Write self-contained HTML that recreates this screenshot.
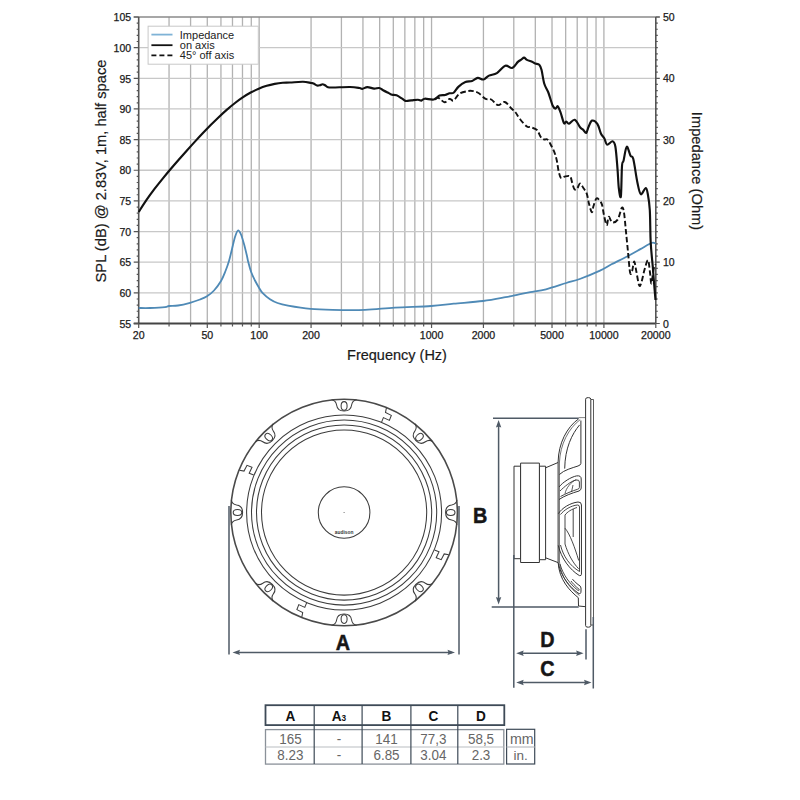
<!DOCTYPE html><html><head><meta charset="utf-8"><style>
html,body{margin:0;padding:0;background:#fff;width:800px;height:800px;overflow:hidden}
svg{position:absolute;left:0;top:0}
text{font-family:"Liberation Sans",sans-serif}
</style></head><body>
<svg width="800" height="800" viewBox="0 0 800 800">

<path d="M169.05 17.0V323.5M190.59 17.0V323.5M207.29 17.0V323.5M220.94 17.0V323.5M232.48 17.0V323.5M242.48 17.0V323.5M251.29 17.0V323.5M259.18 17.0V323.5M311.07 17.0V323.5M341.42 17.0V323.5M362.95 17.0V323.5M379.66 17.0V323.5M393.31 17.0V323.5M404.85 17.0V323.5M414.84 17.0V323.5M423.66 17.0V323.5M431.55 17.0V323.5M483.43 17.0V323.5M513.79 17.0V323.5M535.32 17.0V323.5M552.02 17.0V323.5M565.67 17.0V323.5M577.21 17.0V323.5M587.21 17.0V323.5M596.03 17.0V323.5M603.91 17.0V323.5" stroke="#b2b2b2" stroke-width="1.3" fill="none"/>
<path d="M138.7 292.85H655.8M138.7 262.20H655.8M138.7 231.55H655.8M138.7 200.90H655.8M138.7 170.25H655.8M138.7 139.60H655.8M138.7 108.95H655.8M138.7 78.30H655.8M138.7 47.65H655.8" stroke="#c8c8c8" stroke-width="1.3" fill="none"/>
<path d="M133.7 17.0H659.8" stroke="#8a8a8a" stroke-width="1.6"/>
<path d="M138.7 17.0V323.5 M655.8 17.0V323.5" stroke="#555" stroke-width="1.6"/>
<path d="M133.7 323.5H655.8" stroke="#444" stroke-width="1.8"/>
<path d="M169.05 323.5V326.5M190.59 323.5V326.5M207.29 323.5V326.5M220.94 323.5V326.5M232.48 323.5V326.5M242.48 323.5V326.5M251.29 323.5V326.5M259.18 323.5V326.5M311.07 323.5V326.5M341.42 323.5V326.5M362.95 323.5V326.5M379.66 323.5V326.5M393.31 323.5V326.5M404.85 323.5V326.5M414.84 323.5V326.5M423.66 323.5V326.5M431.55 323.5V326.5M483.43 323.5V326.5M513.79 323.5V326.5M535.32 323.5V326.5M552.02 323.5V326.5M565.67 323.5V326.5M577.21 323.5V326.5M587.21 323.5V326.5M596.03 323.5V326.5M603.91 323.5V326.5M138.70 323.5V328.0M207.29 323.5V328.0M259.18 323.5V328.0M311.07 323.5V328.0M431.55 323.5V328.0M483.43 323.5V328.0M552.02 323.5V328.0M603.91 323.5V328.0M655.80 323.5V328.0M133.7 323.50H138.7M655.8 323.50H659.8M136.7 317.37H138.7M655.8 317.37H657.8M136.7 311.24H138.7M655.8 311.24H657.8M136.7 305.11H138.7M655.8 305.11H657.8M136.7 298.98H138.7M655.8 298.98H657.8M133.7 292.85H138.7M655.8 292.85H657.8M136.7 286.72H138.7M655.8 286.72H657.8M136.7 280.59H138.7M655.8 280.59H657.8M136.7 274.46H138.7M655.8 274.46H657.8M136.7 268.33H138.7M655.8 268.33H657.8M133.7 262.20H138.7M655.8 262.20H659.8M136.7 256.07H138.7M655.8 256.07H657.8M136.7 249.94H138.7M655.8 249.94H657.8M136.7 243.81H138.7M655.8 243.81H657.8M136.7 237.68H138.7M655.8 237.68H657.8M133.7 231.55H138.7M655.8 231.55H657.8M136.7 225.42H138.7M655.8 225.42H657.8M136.7 219.29H138.7M655.8 219.29H657.8M136.7 213.16H138.7M655.8 213.16H657.8M136.7 207.03H138.7M655.8 207.03H657.8M133.7 200.90H138.7M655.8 200.90H659.8M136.7 194.77H138.7M655.8 194.77H657.8M136.7 188.64H138.7M655.8 188.64H657.8M136.7 182.51H138.7M655.8 182.51H657.8M136.7 176.38H138.7M655.8 176.38H657.8M133.7 170.25H138.7M655.8 170.25H657.8M136.7 164.12H138.7M655.8 164.12H657.8M136.7 157.99H138.7M655.8 157.99H657.8M136.7 151.86H138.7M655.8 151.86H657.8M136.7 145.73H138.7M655.8 145.73H657.8M133.7 139.60H138.7M655.8 139.60H659.8M136.7 133.47H138.7M655.8 133.47H657.8M136.7 127.34H138.7M655.8 127.34H657.8M136.7 121.21H138.7M655.8 121.21H657.8M136.7 115.08H138.7M655.8 115.08H657.8M133.7 108.95H138.7M655.8 108.95H657.8M136.7 102.82H138.7M655.8 102.82H657.8M136.7 96.69H138.7M655.8 96.69H657.8M136.7 90.56H138.7M655.8 90.56H657.8M136.7 84.43H138.7M655.8 84.43H657.8M133.7 78.30H138.7M655.8 78.30H659.8M136.7 72.17H138.7M655.8 72.17H657.8M136.7 66.04H138.7M655.8 66.04H657.8M136.7 59.91H138.7M655.8 59.91H657.8M136.7 53.78H138.7M655.8 53.78H657.8M133.7 47.65H138.7M655.8 47.65H657.8M136.7 41.52H138.7M655.8 41.52H657.8M136.7 35.39H138.7M655.8 35.39H657.8M136.7 29.26H138.7M655.8 29.26H657.8M136.7 23.13H138.7M655.8 23.13H657.8M133.7 17.00H138.7M655.8 17.00H659.8" stroke="#555" stroke-width="1.2" fill="none"/>
<text x="131.1" y="327.70" font-size="10.5" text-anchor="end" fill="#1a1a1a" stroke="#1a1a1a" stroke-width="0.25">55</text>
<text x="131.1" y="297.05" font-size="10.5" text-anchor="end" fill="#1a1a1a" stroke="#1a1a1a" stroke-width="0.25">60</text>
<text x="131.1" y="266.40" font-size="10.5" text-anchor="end" fill="#1a1a1a" stroke="#1a1a1a" stroke-width="0.25">65</text>
<text x="131.1" y="235.75" font-size="10.5" text-anchor="end" fill="#1a1a1a" stroke="#1a1a1a" stroke-width="0.25">70</text>
<text x="131.1" y="205.10" font-size="10.5" text-anchor="end" fill="#1a1a1a" stroke="#1a1a1a" stroke-width="0.25">75</text>
<text x="131.1" y="174.45" font-size="10.5" text-anchor="end" fill="#1a1a1a" stroke="#1a1a1a" stroke-width="0.25">80</text>
<text x="131.1" y="143.80" font-size="10.5" text-anchor="end" fill="#1a1a1a" stroke="#1a1a1a" stroke-width="0.25">85</text>
<text x="131.1" y="113.15" font-size="10.5" text-anchor="end" fill="#1a1a1a" stroke="#1a1a1a" stroke-width="0.25">90</text>
<text x="131.1" y="82.50" font-size="10.5" text-anchor="end" fill="#1a1a1a" stroke="#1a1a1a" stroke-width="0.25">95</text>
<text x="131.1" y="51.85" font-size="10.5" text-anchor="end" fill="#1a1a1a" stroke="#1a1a1a" stroke-width="0.25">100</text>
<text x="131.1" y="21.20" font-size="10.5" text-anchor="end" fill="#1a1a1a" stroke="#1a1a1a" stroke-width="0.25">105</text>
<text x="663" y="327.60" font-size="10.5" fill="#1a1a1a" stroke="#1a1a1a" stroke-width="0.25">0</text>
<text x="663" y="266.30" font-size="10.5" fill="#1a1a1a" stroke="#1a1a1a" stroke-width="0.25">10</text>
<text x="663" y="205.00" font-size="10.5" fill="#1a1a1a" stroke="#1a1a1a" stroke-width="0.25">20</text>
<text x="663" y="143.70" font-size="10.5" fill="#1a1a1a" stroke="#1a1a1a" stroke-width="0.25">30</text>
<text x="663" y="82.40" font-size="10.5" fill="#1a1a1a" stroke="#1a1a1a" stroke-width="0.25">40</text>
<text x="663" y="21.10" font-size="10.5" fill="#1a1a1a" stroke="#1a1a1a" stroke-width="0.25">50</text>
<text x="138.70" y="338.6" font-size="10.6" text-anchor="middle" fill="#1a1a1a" stroke="#1a1a1a" stroke-width="0.25">20</text>
<text x="207.29" y="338.6" font-size="10.6" text-anchor="middle" fill="#1a1a1a" stroke="#1a1a1a" stroke-width="0.25">50</text>
<text x="259.18" y="338.6" font-size="10.6" text-anchor="middle" fill="#1a1a1a" stroke="#1a1a1a" stroke-width="0.25">100</text>
<text x="311.07" y="338.6" font-size="10.6" text-anchor="middle" fill="#1a1a1a" stroke="#1a1a1a" stroke-width="0.25">200</text>
<text x="431.55" y="338.6" font-size="10.6" text-anchor="middle" fill="#1a1a1a" stroke="#1a1a1a" stroke-width="0.25">1000</text>
<text x="483.43" y="338.6" font-size="10.6" text-anchor="middle" fill="#1a1a1a" stroke="#1a1a1a" stroke-width="0.25">2000</text>
<text x="552.02" y="338.6" font-size="10.6" text-anchor="middle" fill="#1a1a1a" stroke="#1a1a1a" stroke-width="0.25">5000</text>
<text x="603.91" y="338.6" font-size="10.6" text-anchor="middle" fill="#1a1a1a" stroke="#1a1a1a" stroke-width="0.25">10000</text>
<text x="655.80" y="338.6" font-size="10.6" text-anchor="middle" fill="#1a1a1a" stroke="#1a1a1a" stroke-width="0.25">20000</text>
<text x="397" y="359.8" font-size="14.5" text-anchor="middle" fill="#1a1a1a" stroke="#1a1a1a" stroke-width="0.2">Frequency (Hz)</text>
<text transform="translate(105.6,171) rotate(-90)" font-size="14.7" text-anchor="middle" fill="#1a1a1a" stroke="#1a1a1a" stroke-width="0.2">SPL (dB) @ 2.83V, 1m, half space</text>
<text transform="translate(692,171) rotate(90)" font-size="14.7" text-anchor="middle" fill="#1a1a1a" stroke="#1a1a1a" stroke-width="0.2">Impedance (Ohm)</text>
<path d="M138.70 308.00C140.58 308.00 145.62 308.13 150.00 308.00C154.38 307.87 161.83 307.53 165.00 307.20C168.17 306.87 166.83 306.28 169.00 306.00C171.17 305.72 174.50 306.03 178.00 305.50C181.50 304.97 186.33 303.80 190.00 302.80C193.67 301.80 197.17 300.58 200.00 299.50C202.83 298.42 204.67 297.80 207.00 296.30C209.33 294.80 211.67 293.05 214.00 290.50C216.33 287.95 219.08 284.25 221.00 281.00C222.92 277.75 224.17 274.33 225.50 271.00C226.83 267.67 227.92 264.67 229.00 261.00C230.08 257.33 231.00 253.00 232.00 249.00C233.00 245.00 234.00 240.08 235.00 237.00C236.00 233.92 237.00 230.92 238.00 230.50C239.00 230.08 240.00 232.25 241.00 234.50C242.00 236.75 243.04 240.58 244.00 244.00C244.96 247.42 246.04 252.02 246.75 255.00C247.46 257.98 247.50 259.02 248.25 261.90C249.00 264.77 250.12 269.15 251.25 272.25C252.38 275.35 253.75 278.00 255.00 280.50C256.25 283.00 257.50 285.18 258.75 287.25C260.00 289.32 260.62 290.90 262.50 292.90C264.38 294.90 267.50 297.57 270.00 299.25C272.50 300.93 274.50 301.94 277.50 303.00C280.50 304.06 282.50 304.62 288.00 305.60C293.50 306.58 303.08 308.18 310.50 308.90C317.92 309.62 323.42 309.73 332.50 309.90C341.58 310.07 354.58 310.28 365.00 309.90C375.42 309.52 383.96 308.25 395.00 307.60C406.04 306.95 421.46 306.65 431.25 306.00C441.04 305.35 445.12 304.53 453.75 303.70C462.38 302.87 474.38 302.08 483.00 301.00C491.62 299.92 499.50 298.30 505.50 297.20C511.50 296.10 514.88 295.23 519.00 294.40C523.12 293.57 525.75 293.05 530.25 292.20C534.75 291.35 540.00 290.83 546.00 289.30C552.00 287.77 560.62 284.72 566.25 283.00C571.88 281.28 574.12 281.07 579.75 279.00C585.38 276.93 594.71 273.05 600.00 270.60C605.29 268.15 606.83 266.73 611.50 264.30C616.17 261.87 623.18 258.52 628.00 256.00C632.82 253.47 636.50 251.32 640.40 249.15C644.30 246.98 648.85 243.94 651.40 243.00C653.95 242.06 654.98 243.42 655.70 243.50" fill="none" stroke="#4f8ab6" stroke-width="1.8" stroke-linejoin="round"/>
<path d="M435.00 99.50C435.57 99.22 436.80 97.33 438.40 97.80C440.00 98.27 442.73 102.12 444.60 102.30C446.47 102.48 448.10 99.18 449.60 98.90C451.10 98.62 452.00 101.43 453.60 100.60C455.20 99.77 456.87 95.48 459.20 93.90C461.53 92.32 465.26 91.57 467.60 91.10C469.94 90.63 471.37 90.73 473.25 91.10C475.13 91.47 476.84 92.00 478.90 93.30C480.96 94.60 483.54 97.87 485.60 98.90C487.66 99.93 489.18 98.47 491.25 99.50C493.32 100.53 495.75 104.68 498.00 105.10C500.25 105.52 502.50 101.43 504.75 102.00C507.00 102.57 509.69 106.75 511.50 108.50C513.31 110.25 514.17 110.71 515.60 112.50C517.03 114.29 518.22 116.90 520.10 119.25C521.98 121.60 525.21 125.29 526.90 126.60C528.59 127.91 528.57 126.53 530.25 127.10C531.93 127.67 535.27 128.38 537.00 130.00C538.73 131.62 539.43 135.23 540.60 136.80C541.77 138.37 542.87 138.97 544.00 139.40C545.13 139.83 546.27 138.52 547.40 139.40C548.52 140.28 549.53 142.42 550.75 144.70C551.97 146.98 553.68 150.38 554.70 153.10C555.73 155.82 556.25 158.00 556.90 161.00C557.55 164.00 557.93 168.28 558.60 171.10C559.27 173.92 559.96 176.96 560.90 177.90C561.84 178.84 562.75 177.03 564.25 176.75C565.75 176.47 568.59 175.26 569.90 176.20C571.21 177.14 571.35 180.25 572.10 182.40C572.85 184.55 573.55 188.07 574.40 189.10C575.25 190.13 576.27 189.53 577.20 188.60C578.13 187.67 578.97 183.60 580.00 183.50C581.03 183.40 582.27 186.32 583.40 188.00C584.52 189.68 585.82 190.97 586.75 193.60C587.68 196.22 588.16 200.65 589.00 203.75C589.84 206.85 591.05 211.82 591.80 212.20C592.55 212.57 592.75 208.25 593.50 206.00C594.25 203.75 595.37 199.73 596.30 198.70C597.23 197.67 598.17 198.85 599.10 199.80C600.03 200.75 601.10 201.91 601.90 204.40C602.70 206.89 603.10 211.30 603.90 214.75C604.70 218.20 605.89 224.76 606.70 225.10C607.51 225.44 607.83 217.27 608.75 216.80C609.67 216.33 610.71 221.83 612.20 222.30C613.69 222.77 616.10 222.00 617.70 219.60C619.30 217.20 620.77 209.17 621.80 207.90C622.83 206.63 623.21 208.10 623.90 212.00C624.59 215.90 625.27 224.65 625.95 231.30C626.63 237.95 627.31 245.03 628.00 251.90C628.69 258.77 629.42 269.28 630.10 272.50C630.78 275.72 631.42 273.03 632.10 271.20C632.78 269.37 633.50 261.50 634.20 261.50C634.90 261.50 635.50 267.30 636.30 271.20C637.10 275.10 638.20 282.85 639.00 284.90C639.80 286.95 640.18 286.02 641.10 283.50C642.02 280.98 643.35 273.69 644.50 269.80C645.65 265.91 647.08 259.70 648.00 260.15C648.92 260.60 649.43 268.61 650.00 272.50C650.57 276.39 650.82 283.95 651.40 283.50C651.98 283.05 652.82 273.00 653.50 269.80C654.18 266.60 655.17 265.22 655.50 264.30" fill="none" stroke="#111" stroke-width="1.9" stroke-dasharray="5.5 2.6" stroke-linejoin="round"/>
<path d="M138.70 212.00C140.03 209.95 144.03 203.58 146.70 199.70C149.37 195.82 152.03 192.22 154.70 188.70C157.37 185.18 160.03 181.85 162.70 178.56C165.37 175.27 168.03 172.10 170.70 168.96C173.37 165.82 176.03 162.75 178.70 159.71C181.37 156.67 184.03 153.67 186.70 150.70C189.37 147.73 192.03 144.78 194.70 141.88C197.37 138.98 200.03 136.11 202.70 133.30C205.37 130.49 208.03 127.72 210.70 125.03C213.37 122.34 216.03 119.70 218.70 117.17C221.37 114.64 224.03 112.19 226.70 109.87C229.37 107.55 232.03 105.32 234.70 103.25C237.37 101.18 240.03 99.22 242.70 97.44C245.37 95.66 248.03 94.02 250.70 92.56C253.37 91.10 256.03 89.79 258.70 88.66C261.37 87.53 264.03 86.57 266.70 85.77C269.37 84.97 272.03 84.34 274.70 83.83C277.37 83.32 280.15 82.94 282.70 82.72C285.25 82.50 286.62 82.65 290.00 82.50C293.38 82.35 299.50 81.72 303.00 81.80C306.50 81.88 309.25 82.72 311.00 83.00C312.75 83.28 312.50 83.08 313.50 83.50C314.50 83.92 315.92 85.22 317.00 85.50C318.08 85.78 319.08 85.42 320.00 85.20C320.92 84.98 321.67 84.20 322.50 84.20C323.33 84.20 324.08 84.70 325.00 85.20C325.92 85.70 326.67 86.82 328.00 87.20C329.33 87.58 329.33 87.53 333.00 87.50C336.67 87.47 345.58 86.92 350.00 87.00C354.42 87.08 357.45 87.68 359.50 88.00C361.55 88.32 360.98 89.05 362.30 88.90C363.62 88.75 365.43 87.15 367.40 87.10C369.37 87.05 372.13 88.45 374.10 88.60C376.07 88.75 377.70 87.72 379.20 88.00C380.70 88.28 381.51 89.40 383.10 90.25C384.69 91.10 387.25 92.35 388.75 93.10C390.25 93.85 390.79 94.38 392.10 94.75C393.41 95.12 394.91 94.64 396.60 95.30C398.29 95.96 400.75 97.77 402.25 98.70C403.75 99.63 404.10 100.62 405.60 100.90C407.10 101.18 409.18 100.58 411.25 100.40C413.32 100.22 416.31 99.77 418.00 99.80C419.69 99.83 420.27 100.78 421.40 100.60C422.52 100.42 422.69 98.88 424.75 98.70C426.81 98.52 431.29 100.02 433.75 99.50C436.21 98.98 437.61 96.35 439.50 95.60C441.39 94.85 443.42 95.38 445.10 95.00C446.78 94.62 448.18 93.67 449.60 93.30C451.02 92.92 452.10 93.87 453.60 92.75C455.10 91.63 456.63 88.38 458.60 86.60C460.57 84.82 463.15 83.05 465.40 82.10C467.65 81.15 470.04 81.60 472.10 80.90C474.16 80.20 475.87 78.13 477.75 77.90C479.63 77.67 481.52 79.88 483.40 79.50C485.27 79.12 486.75 76.72 489.00 75.65C491.25 74.58 494.18 74.75 496.90 73.10C499.62 71.45 502.77 66.60 505.30 65.75C507.83 64.90 510.00 68.64 512.10 68.00C514.20 67.36 516.38 63.30 517.90 61.90C519.42 60.50 520.22 60.32 521.25 59.60C522.28 58.88 523.16 57.56 524.10 57.60C525.04 57.64 525.50 59.13 526.90 59.85C528.30 60.57 531.10 61.27 532.50 61.90C533.90 62.52 534.17 63.13 535.30 63.60C536.42 64.07 538.22 63.68 539.25 64.70C540.28 65.73 540.66 66.57 541.50 69.75C542.34 72.93 543.17 80.05 544.30 83.80C545.42 87.55 546.84 88.59 548.25 92.25C549.66 95.91 551.52 103.03 552.75 105.75C553.98 108.47 554.76 108.51 555.60 108.60C556.44 108.69 556.97 105.65 557.80 106.30C558.63 106.95 559.57 109.68 560.60 112.50C561.63 115.32 563.06 121.70 564.00 123.20C564.94 124.70 565.42 121.41 566.25 121.50C567.08 121.59 567.59 124.03 569.00 123.75C570.41 123.47 572.82 119.17 574.70 119.80C576.58 120.42 578.90 125.87 580.30 127.50C581.70 129.13 582.12 128.68 583.10 129.60C584.08 130.52 585.28 133.47 586.20 133.00C587.12 132.53 587.63 128.87 588.60 126.80C589.57 124.73 590.52 121.05 592.00 120.60C593.48 120.15 596.00 121.92 597.50 124.10C599.00 126.28 599.85 131.30 601.00 133.70C602.15 136.10 603.38 136.67 604.40 138.50C605.42 140.33 605.73 144.23 607.10 144.70C608.47 145.17 611.22 140.95 612.60 141.30C613.98 141.65 614.58 142.22 615.40 146.80C616.22 151.38 616.93 161.93 617.50 168.80C618.07 175.67 618.23 183.42 618.80 188.00C619.37 192.58 620.37 199.97 620.90 196.30C621.43 192.63 621.55 171.97 622.00 166.00C622.45 160.03 622.82 163.70 623.60 160.50C624.38 157.30 625.55 147.60 626.70 146.80C627.85 146.00 629.40 153.65 630.50 155.70C631.60 157.75 632.15 154.63 633.30 159.10C634.45 163.57 636.15 176.65 637.40 182.50C638.65 188.35 639.42 193.28 640.80 194.20C642.17 195.12 644.50 188.12 645.65 188.00C646.80 187.88 647.01 189.83 647.70 193.50C648.39 197.17 649.30 201.87 649.80 210.00C650.30 218.13 650.20 232.80 650.70 242.30C651.20 251.80 652.23 260.13 652.80 267.00C653.37 273.87 653.65 278.00 654.10 283.50C654.55 289.00 655.27 297.25 655.50 300.00" fill="none" stroke="#111" stroke-width="2.15" stroke-linejoin="round"/>
<rect x="148.1" y="26.2" width="110.2" height="38" fill="#fff" stroke="#c8c8c8" stroke-width="1"/>
<path d="M151.4 34.6H172.5" stroke="#7fb3d6" stroke-width="1.8"/>
<path d="M151.4 45.2H172.5" stroke="#111" stroke-width="1.8"/>
<path d="M151.4 55.4H172.5" stroke="#111" stroke-width="1.8" stroke-dasharray="5 3"/>
<text x="179.8" y="38.7" font-size="11" fill="#222">Impedance</text>
<text x="179.8" y="48.9" font-size="11" fill="#222">on axis</text>
<text x="179.8" y="59.1" font-size="11" fill="#222">45° off axis</text>
<g fill="none" stroke="#3c3c3c" stroke-width="1.05">
<circle cx="344.1" cy="512.5" r="113.3" stroke="#4a4a4a" stroke-width="1.6"/>
<circle cx="344.1" cy="512.5" r="97.5"/>
<circle cx="344.1" cy="512.5" r="92.6"/>
<circle cx="344.1" cy="512.5" r="87.6"/>
<circle cx="344.1" cy="512.5" r="82.6"/>
<circle cx="344.1" cy="512.5" r="25.8"/>
<g transform="rotate(0 344.1 512.5)"><path d="M331.6 399.7 C334.6 400.2 336.1 402.0 336.6 405.0 C337.1 409.0 340.1 411.0 344.1 411.0 C348.1 411.0 351.1 409.0 351.6 405.0 C352.1 402.0 353.6 400.2 356.6 399.7"/><ellipse cx="344.1" cy="405.9" rx="3" ry="4.3"/></g>
<g transform="rotate(45 344.1 512.5)"><path d="M331.6 399.7 C334.6 400.2 336.1 402.0 336.6 405.0 C337.1 409.0 340.1 411.0 344.1 411.0 C348.1 411.0 351.1 409.0 351.6 405.0 C352.1 402.0 353.6 400.2 356.6 399.7"/><ellipse cx="344.1" cy="405.9" rx="3" ry="4.3"/></g>
<g transform="rotate(90 344.1 512.5)"><path d="M331.6 399.7 C334.6 400.2 336.1 402.0 336.6 405.0 C337.1 409.0 340.1 411.0 344.1 411.0 C348.1 411.0 351.1 409.0 351.6 405.0 C352.1 402.0 353.6 400.2 356.6 399.7"/><ellipse cx="344.1" cy="405.9" rx="3" ry="4.3"/></g>
<g transform="rotate(135 344.1 512.5)"><path d="M331.6 399.7 C334.6 400.2 336.1 402.0 336.6 405.0 C337.1 409.0 340.1 411.0 344.1 411.0 C348.1 411.0 351.1 409.0 351.6 405.0 C352.1 402.0 353.6 400.2 356.6 399.7"/><ellipse cx="344.1" cy="405.9" rx="3" ry="4.3"/></g>
<g transform="rotate(180 344.1 512.5)"><path d="M331.6 399.7 C334.6 400.2 336.1 402.0 336.6 405.0 C337.1 409.0 340.1 411.0 344.1 411.0 C348.1 411.0 351.1 409.0 351.6 405.0 C352.1 402.0 353.6 400.2 356.6 399.7"/><ellipse cx="344.1" cy="405.9" rx="3" ry="4.3"/></g>
<g transform="rotate(225 344.1 512.5)"><path d="M331.6 399.7 C334.6 400.2 336.1 402.0 336.6 405.0 C337.1 409.0 340.1 411.0 344.1 411.0 C348.1 411.0 351.1 409.0 351.6 405.0 C352.1 402.0 353.6 400.2 356.6 399.7"/><ellipse cx="344.1" cy="405.9" rx="3" ry="4.3"/></g>
<g transform="rotate(270 344.1 512.5)"><path d="M331.6 399.7 C334.6 400.2 336.1 402.0 336.6 405.0 C337.1 409.0 340.1 411.0 344.1 411.0 C348.1 411.0 351.1 409.0 351.6 405.0 C352.1 402.0 353.6 400.2 356.6 399.7"/><ellipse cx="344.1" cy="405.9" rx="3" ry="4.3"/></g>
<g transform="rotate(315 344.1 512.5)"><path d="M331.6 399.7 C334.6 400.2 336.1 402.0 336.6 405.0 C337.1 409.0 340.1 411.0 344.1 411.0 C348.1 411.0 351.1 409.0 351.6 405.0 C352.1 402.0 353.6 400.2 356.6 399.7"/><ellipse cx="344.1" cy="405.9" rx="3" ry="4.3"/></g>
<g transform="rotate(0 344.1 512.5)"><path d="M386.4 407.9 L385.5 412.4 L391.3 415.4 L389.4 420.4 L383.4 417.6 L381.6 422.1" stroke-linejoin="miter"/></g>
<g transform="rotate(90 344.1 512.5)"><path d="M386.4 407.9 L385.5 412.4 L391.3 415.4 L389.4 420.4 L383.4 417.6 L381.6 422.1" stroke-linejoin="miter"/></g>
<g transform="rotate(180 344.1 512.5)"><path d="M386.4 407.9 L385.5 412.4 L391.3 415.4 L389.4 420.4 L383.4 417.6 L381.6 422.1" stroke-linejoin="miter"/></g>
<g transform="rotate(270 344.1 512.5)"><path d="M386.4 407.9 L385.5 412.4 L391.3 415.4 L389.4 420.4 L383.4 417.6 L381.6 422.1" stroke-linejoin="miter"/></g>
</g>
<circle cx="344.1" cy="512.5" r="0.6" fill="#666"/>
<text x="344.1" y="533.8" font-size="5.1" font-weight="bold" text-anchor="middle" fill="#333" transform="translate(344.1,0) scale(0.95,1) translate(-344.1,0)">audison</text>
<g fill="#fff" stroke="#333" stroke-width="1" stroke-linejoin="round">
<rect x="514" y="466.2" width="6.6" height="92.5"/>
<rect x="539.4" y="466.2" width="6.2" height="93.5"/>
<rect x="520.6" y="463.1" width="18.8" height="99.4"/>
<path d="M545.6 467.8 L558.1 462.5 M545.6 557.8 L558.1 562.6" fill="none"/>
<path d="M578.7 418.8 C567 427 558.5 443 558.1 462 L558.1 562 C559 580 570 591 578.3 597.7 L578.5 606 L585.6 606.7" fill="none"/>
<path d="M580.2 419.6 C569 428 560 444 559.4 463 L559.4 561 C560.5 578 571 589 579.5 595.5" fill="none" stroke-width="0.7"/>
<path d="M578.5 417.6 H585.6" fill="none" stroke-width="0.6"/>
<path d="M580.9 420.5 V463.4 Q580.9 465 578 466 C572 468 564 470 559.4 474.5" fill="none"/>
<path d="M579.6 424.9 C572 434 565 448 564.7 468.6" fill="none"/>
<path d="M559 487 C563 482 571 477 576.5 475.9 Q581.2 475.2 581.2 479 V488 Q581.2 490 579 491 C572 493 564 496 559 499.5" fill="none"/>
<path d="M560 491 C564 487 571 481 576 480 Q579.4 479.5 579.4 482 V487.5 Q579.4 488.7 577.5 489.3 C572 491 566 493.5 560.5 496.5" fill="none" stroke-width="0.9"/>
<path d="M565 493.7 C566 488 571 482 576.2 479.6 M573 485 L571.5 492" fill="none" stroke-width="0.8"/>
<path d="M558.3 513.7 C562 508 570 503 578 502 Q581.45 501.8 581.45 505 V574.3 Q581.45 576 579.4 575.6 C570 570 561 558 558.3 545.4" fill="none"/>
<path d="M560.5 514.5 C564 510 571 505.5 577.5 505 Q579.5 505 579.5 507 V571.5 C570 566 563 556 560.5 545" fill="none" stroke-width="0.9"/>
<path d="M577 507.5 C572 509 567 512 565 515.1 V544 C568 554 573 563 578.7 568.8 M573.2 509 V537 M565 528.2 C570 534 575 548 578.7 560.5" fill="none" stroke-width="0.9"/>
<path d="M558.3 563.3 C561 577 570 587 578 593 Q581 595 581 591 V588 Q581 586 578 584.5 C575 582 573 580 572.5 579.1" fill="none"/>
<path d="M560 564 C563 575 570 584 577.5 590 Q579.3 591 579.3 589.5 C575 586 572 582.5 571 581" fill="none" stroke-width="0.9"/>
<path d="M590.8 399.5 H593.5 V625 H590.8" fill="none" stroke-width="0.8"/>
<rect x="585.6" y="397.6" width="5.2" height="229.6" rx="2.4" ry="1.6"/>
</g>
<g stroke="#4f5a66" stroke-width="1.5" fill="none">
<path d="M229 506V654.5 M459 506V654.5 M236 652.4H452"/>
<path d="M493 418.2H578.5 M491.7 607H578.7 M498.6 424V600"/>
<path d="M513.8 555V687.7 M593.3 617V688.4 M586 629.2V659.5 M520 653.3H580 M520 682.5H588"/>
</g>
<g fill="#4f5a66">
<path d="M232.5 652.4 L240.00 649.70 L239.00 652.40 L240.00 655.10 Z"/>
<path d="M455 652.4 L447.50 655.10 L448.50 652.40 L447.50 649.70 Z"/>
<path d="M498.6 420 L501.30 427.50 L498.60 426.50 L495.90 427.50 Z"/>
<path d="M498.6 604.6 L495.90 597.10 L498.60 598.10 L501.30 597.10 Z"/>
<path d="M516.2 653.3 L523.70 650.60 L522.70 653.30 L523.70 656.00 Z"/>
<path d="M583.6 653.3 L576.10 656.00 L577.10 653.30 L576.10 650.60 Z"/>
<path d="M516.2 682.5 L523.70 679.80 L522.70 682.50 L523.70 685.20 Z"/>
<path d="M591.5 682.5 L584.00 685.20 L585.00 682.50 L584.00 679.80 Z"/>
</g>
<g font-family="Liberation Sans" font-weight="bold" fill="#161616" stroke="#161616" stroke-width="0.5" font-size="22" text-anchor="middle">
<text transform="translate(343,649.6) scale(0.9,1)" x="0" y="0">A</text>
<text transform="translate(480.2,522.5) scale(0.9,1)" x="0" y="0">B</text>
<text transform="translate(547.4,646.9) scale(0.9,1)" x="0" y="0">D</text>
<text transform="translate(547.4,676.4) scale(0.9,1)" x="0" y="0">C</text>
</g>
<rect x="265.5" y="705.2" width="238.8" height="19.9" fill="none" stroke="#3e4a57" stroke-width="1.8"/>
<rect x="265.5" y="729.6" width="238.3" height="34.5" fill="none" stroke="#8a9199" stroke-width="1.3"/>
<path d="M265.5 747H503.8" stroke="#b9bdc2" stroke-width="1.2"/>
<path d="M314.2 705.2V764.1 M362.1 705.2V764.1 M410.9 705.2V764.1 M457.8 705.2V764.1" stroke="#3e4a57" stroke-width="1.2"/>
<rect x="506.6" y="729.3" width="28.1" height="34.7" fill="none" stroke="#3e4a57" stroke-width="1.2"/>
<path d="M506.6 747H534.7" stroke="#b9bdc2" stroke-width="1.2"/>
<g font-weight="bold" font-size="14.8" fill="#111" text-anchor="middle">
<text transform="translate(290.4,720.9) scale(0.92,1)">A</text>
<text transform="translate(339,720.9) scale(0.92,1)">A<tspan font-size="9">3</tspan></text>
<text transform="translate(386.5,720.9) scale(0.92,1)">B</text>
<text transform="translate(433.3,720.9) scale(0.92,1)">C</text>
<text transform="translate(481,720.9) scale(0.92,1)">D</text>
</g>
<g font-size="14" fill="#666" text-anchor="middle">
<text transform="translate(290.4,744.1) scale(0.96,1)">165</text>
<text transform="translate(290.4,760.3) scale(0.96,1)">8.23</text>
<text transform="translate(339,744.1) scale(0.96,1)">-</text>
<text transform="translate(339,760.3) scale(0.96,1)">-</text>
<text transform="translate(386.5,744.1) scale(0.96,1)">141</text>
<text transform="translate(386.5,760.3) scale(0.96,1)">6.85</text>
<text transform="translate(433.3,744.1) scale(0.96,1)">77,3</text>
<text transform="translate(433.3,760.3) scale(0.96,1)">3.04</text>
<text transform="translate(481,744.1) scale(0.96,1)">58,5</text>
<text transform="translate(481,760.3) scale(0.96,1)">2.3</text>
<text x="521.7" y="744.1" font-size="14.2">mm</text><text x="520.7" y="760.3" font-size="13.5">in.</text>
</g>
</svg></body></html>
